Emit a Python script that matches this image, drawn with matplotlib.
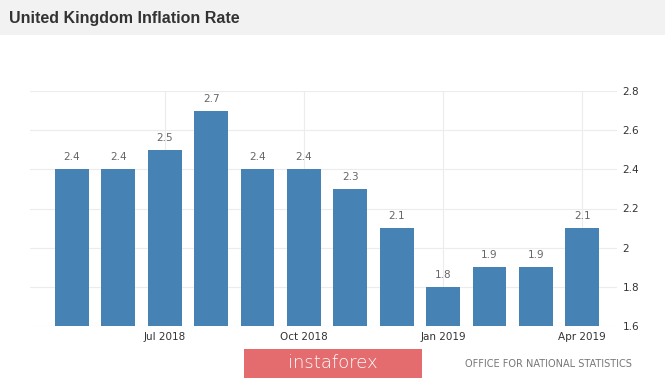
import matplotlib
matplotlib.use("Agg")
import matplotlib.pyplot as plt
from matplotlib.patches import Rectangle

months = ["May 2018", "Jun 2018", "Jul 2018", "Aug 2018", "Sep 2018", "Oct 2018",
          "Nov 2018", "Dec 2018", "Jan 2019", "Feb 2019", "Mar 2019", "Apr 2019"]
values = [2.4, 2.4, 2.5, 2.7, 2.4, 2.4, 2.3, 2.1, 1.8, 1.9, 1.9, 2.1]
xtick_labels = ["Jul 2018", "Oct 2018", "Jan 2019", "Apr 2019"]
ytick_values = [1.6, 1.8, 2.0, 2.2, 2.4, 2.6, 2.8]
ytick_labels = ["1.6", "1.8", "2", "2.2", "2.4", "2.6", "2.8"]
title = "United Kingdom Inflation Rate"
source = "OFFICE FOR NATIONAL STATISTICS"
brand = "instaforex"

W, H = 665, 380
fig = plt.figure(figsize=(W / 100, H / 100), dpi=100)
fig.patch.set_facecolor("white")

# title bar
fig.patches.append(Rectangle((0, 1 - 35 / H), 1, 35 / H, transform=fig.transFigure,
                             facecolor="#f2f2f2", edgecolor="none", zorder=0))
fig.text(9 / W, 1 - 18 / H, title, fontsize=11.5, fontweight="bold", color="#333333",
         family="Liberation Sans", va="center", ha="left")

# axes: x 30..617, y 91..326
ax = fig.add_axes([30 / W, 1 - 326 / H, (617 - 30) / W, (326 - 91) / H])
x = list(range(len(values)))
ax.bar(x, values, width=0.73, color="#4682b4", zorder=3, bottom=0)
ax.set_ylim(1.6, 2.8)
ax.set_xlim(-0.905, 11.75)

for xi, v in zip(x, values):
    ax.annotate(f"{v:.1f}", (xi, v), xytext=(0, 5), textcoords="offset points",
                ha="center", va="bottom", fontsize=7.5, color="#666666", zorder=4)

tick_pos = [months.index(m) for m in xtick_labels]
ax.set_xticks(tick_pos)
ax.set_xticklabels(xtick_labels, fontsize=7.5, color="#333333")
ax.set_yticks(ytick_values)
ax.set_yticklabels(ytick_labels, fontsize=7.5, color="#333333")
ax.yaxis.tick_right()
ax.tick_params(axis="both", length=0, pad=4)
ax.tick_params(axis="y", pad=4)
ax.grid(True, color="#ececec", linewidth=0.8, zorder=0)
for s in ax.spines.values():
    s.set_visible(False)

# brand box
fig.patches.append(Rectangle((244 / W, 1 - 378 / H), (422 - 244) / W, (378 - 349) / H,
                             transform=fig.transFigure, facecolor="#e46c6e",
                             edgecolor="none", zorder=1))
fig.text(333 / W, 1 - 363 / H, brand, fontsize=13, color="white", ha="center",
         va="center", family="DejaVu Sans", fontweight="light")
fig.text(548 / W, 1 - 364 / H, source, fontsize=7, color="#777777", ha="center",
         va="center")

fig.savefig("out.png", dpi=100)
